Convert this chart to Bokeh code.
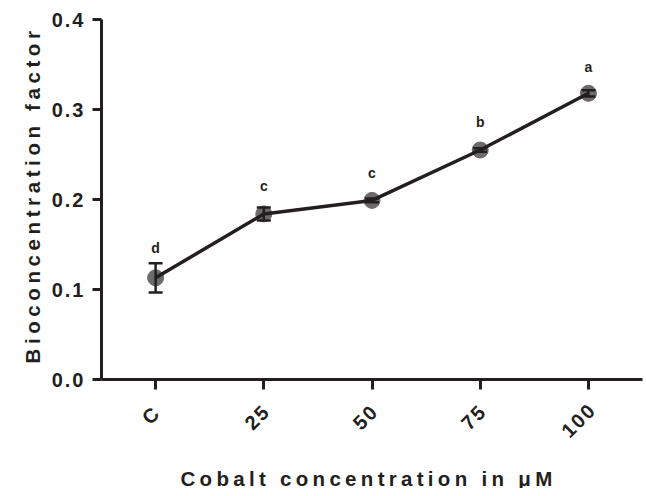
import math
from bokeh.plotting import figure
from bokeh.layouts import column, row
from bokeh.models import (ColumnDataSource, Whisker, TeeHead, Label,
                          InlineStyleSheet, FixedTicker, PrintfTickFormatter)
from bokeh.core.properties import value
from bokeh.embed import file_html
from bokeh.resources import INLINE

# ---- data ----
categories = ["C", "25", "50", "75", "100"]
bcf_mean = [0.113, 0.184, 0.199, 0.255, 0.318]
bcf_sem = [0.0163, 0.0072, 0.002, 0.002, 0.0035]
letters = ["d", "c", "c", "b", "a"]
letter_y = [0.146, 0.215, 0.230, 0.286, 0.347]
y_ticks = [0.0, 0.1, 0.2, 0.3, 0.4]
x_title = "Cobalt concentration in \u03bcM"
y_title = "Bioconcentration factor"

FONT = "Liberation Sans"
INK = "#231f20"
MARK = "#6b6b6b"


def spacing(px):
    return [InlineStyleSheet(css=":host { letter-spacing: %spx; }" % px)]


def blank_fig(w, h, **kw):
    f = figure(width=w, height=h, x_range=(0, 1), y_range=(0, 1),
               output_backend="svg", toolbar_location=None,
               x_axis_location=None, y_axis_location=None, **kw)
    f.outline_line_color = None
    f.grid.visible = False
    f.background_fill_color = "white"
    f.border_fill_color = "white"
    return f


src = ColumnDataSource(dict(
    cat=categories, mean=bcf_mean,
    upper=[m + s for m, s in zip(bcf_mean, bcf_sem)],
    lower=[m - s for m, s in zip(bcf_mean, bcf_sem)],
    letter=letters, ly=letter_y,
))

# ---- main plot ----
p = figure(width=598, height=452, x_range=categories, y_range=(0, 0.4),
           output_backend="svg", toolbar_location=None,
           min_border_left=52, min_border_right=4,
           min_border_top=19, min_border_bottom=72)
p.outline_line_color = None
p.xgrid.visible = False
p.ygrid.visible = False
p.background_fill_color = "white"
p.border_fill_color = "white"

for ax in (p.xaxis[0], p.yaxis[0]):
    ax.axis_line_color = INK
    ax.axis_line_width = 3
    ax.major_tick_line_color = INK
    ax.major_tick_line_width = 3
    ax.major_tick_in = 0
    ax.minor_tick_line_color = None
    ax.major_label_text_font = FONT
    ax.major_label_text_font_style = "bold"
    ax.major_label_text_font_size = "20px"
    ax.major_label_text_color = INK

p.yaxis.ticker = FixedTicker(ticks=y_ticks)
p.yaxis.formatter = PrintfTickFormatter(format="%.1f")
p.yaxis.major_tick_out = 9
p.yaxis.major_label_standoff = 13

p.xaxis.major_tick_out = 10
p.xaxis.major_label_orientation = math.pi / 4
p.xaxis.major_label_standoff = 21

p.scatter(x="cat", y="mean", source=src, size=16, fill_color=MARK,
          line_color=MARK)
p.line(x="cat", y="mean", source=src, line_width=3.5, line_color=INK)
w = Whisker(base="cat", upper="upper", lower="lower", source=src,
            line_color=INK, line_width=2.5, level="overlay",
            upper_head=TeeHead(size=14, line_color=INK, line_width=2.5),
            lower_head=TeeHead(size=14, line_color=INK, line_width=2.5))
p.add_layout(w)

p.text(x="cat", y="ly", text="letter", source=src, text_font=value(FONT),
       text_font_style="bold", text_font_size="14px", text_align="center",
       text_baseline="alphabetic", text_color=INK)
p.stylesheets = spacing(2)

# ---- y-axis title strip (its frame lines up with the main frame) ----
yfig = blank_fig(48, 452, min_border_left=0, min_border_right=0,
                 min_border_top=19, min_border_bottom=72)
yfig.add_layout(Label(x=32, y=16, x_units="screen", y_units="screen",
                      angle=math.pi / 2, text=y_title, text_font=FONT,
                      text_font_style="bold", text_font_size="20.5px",
                      text_color=INK, text_align="left",
                      text_baseline="alphabetic"))
yfig.stylesheets = spacing(4.6)

# ---- x-axis title strip ----
xfig = blank_fig(646, 36, min_border=0)
xfig.add_layout(Label(x=180, y=10, x_units="screen", y_units="screen",
                      text=x_title, text_font=FONT, text_font_style="bold",
                      text_font_size="20.5px", text_color=INK,
                      text_align="left", text_baseline="alphabetic"))
xfig.stylesheets = spacing(4.3)

layout = column(row(yfig, p), xfig)
open("out.html", "w").write(file_html(layout, INLINE))
